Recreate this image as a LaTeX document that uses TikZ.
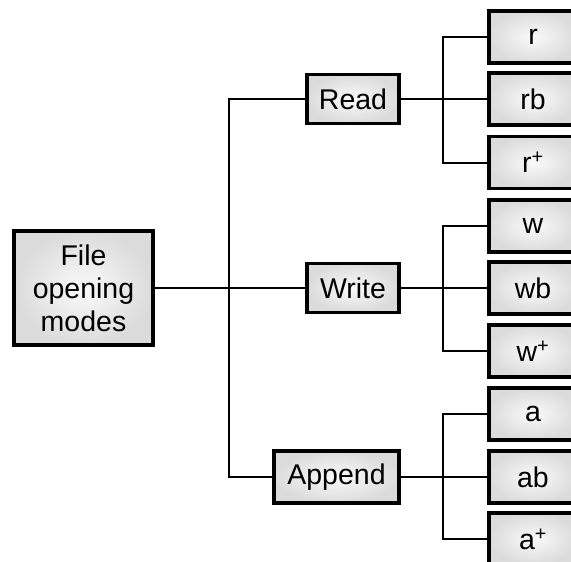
\documentclass[tikz,border=0pt]{standalone}
\usepackage{fontspec}
\setmainfont{Liberation Sans}
\begin{document}
\begin{tikzpicture}[x=1pt,y=-1pt,
  box/.style={draw=black, line width=3.5pt, inner color=gray!4, outer color=gray!28,
    inner sep=0pt, align=center, font=\fontsize{28.5}{33}\selectfont},
  midbox/.style={box, minimum height=49pt},
  leafbox/.style={box, minimum width=88pt, minimum height=52pt},
  conn/.style={draw=black, line width=2pt}]
\useasboundingbox (0,0) rectangle (571,562);
\clip (0,0) rectangle (571,562);
\node[box, minimum width=139pt, minimum height=114pt] (file) at (83.5,288) {File\\opening\\modes};
\node[midbox, minimum width=92pt] (read) at (353,99) {Read};
\node[midbox, minimum width=92pt] (write) at (353,288) {Write};
\node[midbox, minimum width=125pt, minimum height=52pt] (append) at (336.5,477) {Append};
\coordinate (j1) at (229,0);
\coordinate (j2) at (443,0);
\node[leafbox] (r) at (533,37) {r};
\node[leafbox] (rb) at (533,99) {rb};
\node[leafbox] (rp) at (533,162.5) {r\textsuperscript{+}};
\node[leafbox] (w) at (533,226) {w};
\node[leafbox] (wb) at (533,288) {wb};
\node[leafbox] (wp) at (533,351) {w\textsuperscript{+}};
\node[leafbox] (a) at (533,414) {a};
\node[leafbox] (ab) at (533,477) {ab};
\node[leafbox] (ap) at (533,539) {a\textsuperscript{+}};
\draw[conn] (file.east) -- (write.west);
\draw[conn] (read.west) -- (read.west -| j1) |- (append.west);
\draw[conn] (read.east) -- (rb.west);
\draw[conn] (r.west) -- (r.west -| j2) |- (rp.west);
\draw[conn] (write.east) -- (wb.west);
\draw[conn] (w.west) -- (w.west -| j2) |- (wp.west);
\draw[conn] (append.east) -- (ab.west);
\draw[conn] (a.west) -- (a.west -| j2) |- (ap.west);
\end{tikzpicture}
\end{document}
